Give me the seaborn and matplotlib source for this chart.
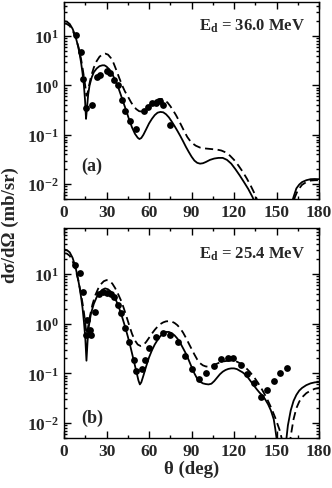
import numpy as np
import matplotlib
matplotlib.use('Agg')
import matplotlib.pyplot as plt
import seaborn as sns

# --- panel (a): E_d = 36.0 MeV ---
exp_a_theta = [8.5, 11.8, 13.6, 15.8, 19.5, 23.5, 25.4, 30.1, 32.5, 35.5, 38.3, 40.7,
               43.1, 46.6, 50.8, 56.5, 59.1, 61.9, 64.7, 67.8, 70.1, 74.8]
exp_a_sig = [10.5, 4.8, 1.35, 0.35, 0.40, 1.5, 1.6, 2.0, 1.75, 1.3, 1.0, 0.5,
             0.31, 0.19, 0.13, 0.30, 0.36, 0.45, 0.45, 0.48, 0.41, 0.16]

solid_a_theta = [0, 2, 4, 6, 8, 10, 11, 12, 13, 14, 14.8, 15.5, 16.2, 17, 18, 19.5, 21, 23, 25, 27,
                 28.5, 30, 32, 34, 36, 38, 40, 42, 44, 46, 48, 50, 52, 53.2, 54.5, 56, 58, 60, 62, 64,
                 66, 68, 70, 72, 74, 76, 78, 80, 82, 84, 86, 88, 90, 92, 94, 96, 98, 100, 103, 106,
                 109, 112, 115, 118, 121, 124, 127, 130, 133, 136, 160, 162, 164, 166, 168, 171, 174, 177, 180]
solid_a_sig = [20, 19.5, 17.5, 14, 10, 6.0, 4.3, 2.9, 1.8, 1.0, 0.5, 0.21, 0.35, 0.65, 1.0, 1.45, 1.85, 2.2, 2.45, 2.55,
               2.55, 2.4, 2.1, 1.7, 1.3, 0.95, 0.65, 0.44, 0.3, 0.2, 0.14, 0.105, 0.087, 0.082, 0.086, 0.1, 0.13, 0.17, 0.21, 0.25,
               0.28, 0.29, 0.285, 0.26, 0.225, 0.185, 0.15, 0.12, 0.095, 0.074, 0.057, 0.045, 0.036, 0.03, 0.027, 0.026, 0.0265, 0.028, 0.031, 0.033,
               0.034, 0.034, 0.031, 0.026, 0.02, 0.015, 0.011, 0.008, 0.0055, 0.0035, 0.0035, 0.0055, 0.0082, 0.0098, 0.011, 0.012, 0.0126, 0.0127, 0.0126]

dash_a_theta = [0, 2, 4, 6, 8, 10, 11, 12, 13, 14, 15, 15.8, 16.6, 17.5, 19, 21, 23, 25, 27, 29,
                31, 33, 35, 37, 39, 41, 43, 45, 47, 49, 51, 53, 55, 57, 59, 61, 63, 65, 67, 69,
                71, 73, 75, 77, 79, 81, 83, 85, 87, 89, 91, 93, 96, 99, 102, 105, 108, 111, 114, 117,
                120, 123, 126, 129, 132, 135, 138, 161, 163, 165, 168, 171, 174, 177, 180]
dash_a_sig = [18, 17.5, 16, 13, 9.5, 6.2, 4.7, 3.4, 2.3, 1.5, 0.95, 0.62, 0.7, 0.95, 1.5, 2.3, 3.1, 3.8, 4.25, 4.4,
              4.2, 3.6, 2.8, 2.0, 1.4, 1.0, 0.75, 0.6, 0.47, 0.38, 0.33, 0.3, 0.295, 0.31, 0.35, 0.41, 0.46, 0.5, 0.53, 0.53,
              0.5, 0.45, 0.38, 0.31, 0.25, 0.195, 0.15, 0.115, 0.09, 0.075, 0.066, 0.06, 0.055, 0.053, 0.052, 0.051, 0.05, 0.048, 0.044, 0.038,
              0.031, 0.024, 0.018, 0.013, 0.009, 0.006, 0.0035, 0.0035, 0.0055, 0.0075, 0.0097, 0.011, 0.0118, 0.012, 0.012]

# --- panel (b): E_d = 25.4 MeV ---
exp_b_theta = [7.6, 11.1, 13.5, 16.3, 15.6, 18.2, 18.8, 21.7, 24.5, 27.6, 30.4, 33.2, 35.1, 37.9,
               40.5, 43.3, 45.6, 49.2, 51.1, 55.1, 57.4, 59.7, 64.9, 69.6, 75.0, 80.2, 85.6, 90.3,
               95.5, 100.3, 105.5, 110.7, 115.6, 119.6, 124.8, 129.0, 134.2, 138.9, 143.6, 148.3,
               152.5, 157.7]
exp_b_sig = [15, 10.5, 4.3, 1.2, 0.59, 0.73, 0.6, 1.7, 4.0, 4.3, 4.2, 4.0, 3.5, 2.4,
             1.6, 0.81, 0.43, 0.19, 0.11, 0.12, 0.19, 0.32, 0.55, 0.65, 0.59, 0.43, 0.22, 0.12,
             0.077, 0.10, 0.14, 0.195, 0.2, 0.2, 0.15, 0.098, 0.063, 0.034, 0.047, 0.069,
             0.10, 0.13]

solid_b_theta = [0, 2, 4, 6, 8, 10, 11, 12, 13, 14, 15, 15.8, 16.6, 17.5, 19, 21, 23, 25, 27, 29,
                 31, 33, 35, 37, 39, 41, 43, 45, 47, 49, 51, 52.5, 53.5, 54.5, 56, 58, 60, 62, 64, 66,
                 68, 70, 72, 74, 76, 78, 80, 82, 84, 86, 88, 90, 92, 94, 96, 98, 100, 102, 104, 106,
                 108, 110, 112, 114, 116, 118, 120, 122, 124, 126, 128, 130, 132, 134, 136, 138, 140, 142, 144, 146,
                 148, 149, 150, 151, 153.5, 156, 157, 158, 160, 162, 164, 166, 168, 171, 174, 177, 180]
solid_b_sig = [31, 30, 27, 21, 14, 7.5, 5.2, 3.4, 2.1, 1.1, 0.5, 0.18, 0.45, 0.9, 1.6, 2.5, 3.4, 4.2, 4.8, 5.1,
               4.9, 4.4, 3.6, 2.8, 2.0, 1.35, 0.88, 0.55, 0.33, 0.19, 0.11, 0.072, 0.06, 0.066, 0.09, 0.14, 0.21, 0.29, 0.38, 0.47,
               0.56, 0.64, 0.68, 0.68, 0.64, 0.58, 0.5, 0.41, 0.32, 0.25, 0.185, 0.135, 0.1, 0.078, 0.068, 0.063, 0.061, 0.06, 0.062, 0.07,
               0.082, 0.096, 0.108, 0.117, 0.123, 0.126, 0.126, 0.122, 0.113, 0.105, 0.094, 0.081, 0.068, 0.057, 0.048, 0.041, 0.036, 0.03, 0.024, 0.018,
               0.012, 0.008, 0.005, 0.003, 0.0008, 0.003, 0.005, 0.009, 0.018, 0.028, 0.037, 0.045, 0.051, 0.058, 0.063, 0.066, 0.067]

dash_b_theta = [0, 2, 4, 6, 8, 10, 11, 12, 13, 14, 15, 15.8, 16.8, 18, 20, 22, 24, 26, 28, 30,
                32, 34, 36, 38, 40, 42, 44, 46, 48, 50, 52, 54, 56, 58, 60, 62, 64, 66, 68, 70,
                72, 74, 76, 78, 80, 82, 84, 86, 88, 90, 92, 94, 96, 98, 100, 102, 104, 106, 108, 110,
                113, 116, 119, 122, 125, 128, 131, 134, 137, 140, 143, 146, 149, 152, 154, 157, 160, 162, 164, 166,
                168, 171, 174, 177, 180]
dash_b_sig = [26, 25.5, 23, 18, 12.5, 7.5, 5.4, 3.8, 2.6, 1.7, 1.0, 0.62, 0.8, 1.3, 2.4, 3.7, 5.0, 6.2, 7.1, 7.5,
              7.2, 6.4, 5.2, 4.0, 3.0, 2.1, 1.4, 0.92, 0.62, 0.46, 0.38, 0.355, 0.37, 0.43, 0.52, 0.63, 0.75, 0.87, 0.98, 1.06,
              1.11, 1.12, 1.1, 1.03, 0.93, 0.8, 0.66, 0.52, 0.4, 0.31, 0.24, 0.19, 0.16, 0.145, 0.138, 0.136, 0.14, 0.148, 0.157, 0.166,
              0.175, 0.18, 0.18, 0.172, 0.155, 0.132, 0.108, 0.085, 0.064, 0.046, 0.032, 0.021, 0.013, 0.0075, 0.0045, 0.0008, 0.0055, 0.012, 0.02, 0.027,
              0.033, 0.04, 0.045, 0.049, 0.051]

panels = [
    ('E$_{\\rm d}$ = 36.0 MeV', '(a)', exp_a_theta, exp_a_sig, solid_a_theta, solid_a_sig, dash_a_theta, dash_a_sig, 49),
    ('E$_{\\rm d}$ = 25.4 MeV', '(b)', exp_b_theta, exp_b_sig, solid_b_theta, solid_b_sig, dash_b_theta, dash_b_sig, 84),
]

sns.set_style('ticks')
plt.rcParams['font.family'] = ['Liberation Serif', 'DejaVu Serif']
plt.rcParams['font.weight'] = 'bold'
plt.rcParams['mathtext.fontset'] = 'custom'
plt.rcParams['mathtext.rm'] = 'Liberation Serif:bold'
plt.rcParams['mathtext.it'] = 'Liberation Serif:bold:italic'
plt.rcParams['mathtext.bf'] = 'Liberation Serif:bold'

fig = plt.figure(figsize=(3.32, 4.89), dpi=100)
boxes = [[0.193, 0.591, 0.768, 0.403], [0.193, 0.102, 0.768, 0.430]]

for box, (etext, tag, ex, ey, sx, sy, dx, dy, ytop) in zip(boxes, panels):
    ax = fig.add_axes(box)
    sns.lineplot(x=sx, y=sy, ax=ax, color='black', lw=1.3)
    sns.lineplot(x=dx, y=dy, ax=ax, color='black', lw=1.3, linestyle=(0, (4.5, 2.5)))
    sns.scatterplot(x=ex, y=ey, ax=ax, color='black', s=24, edgecolor='black', linewidth=0, zorder=3)
    ax.set_yscale('log')
    ax.set_xlim(0, 180)
    ax.set_ylim(0.005, ytop)
    ax.set_xticks(range(0, 181, 30))
    ax.set_xticks(range(0, 181, 15), minor=True)
    ax.tick_params(which='both', direction='in', top=True, right=True, labelsize=12.5, width=1, color='black')
    ax.tick_params(which='major', length=5)
    ax.tick_params(which='minor', length=2.5)
    for lab in ax.get_xticklabels() + ax.get_yticklabels():
        lab.set_fontweight('bold')
    for sp in ax.spines.values():
        sp.set_color('black')
        sp.set_linewidth(1)
    ax.set_xlabel('')
    ax.set_ylabel('')
    ax.text(0.945, 0.88, etext, transform=ax.transAxes, ha='right', va='center', fontsize=12, fontweight='bold')
    ax.text(0.11, 0.17 if tag == '(a)' else 0.1, tag, transform=ax.transAxes, ha='center', va='center',
            fontsize=13, fontweight='bold')

fig.text(0.03, 0.54, 'd\u03c3/d\u03a9 (mb/sr)', rotation=90, ha='center', va='center', fontsize=13.5, fontweight='bold')
fig.text(0.577, 0.04, '\u03b8 (deg)', ha='center', va='center', fontsize=13.5, fontweight='bold')

fig.savefig('out.png', dpi=100)
